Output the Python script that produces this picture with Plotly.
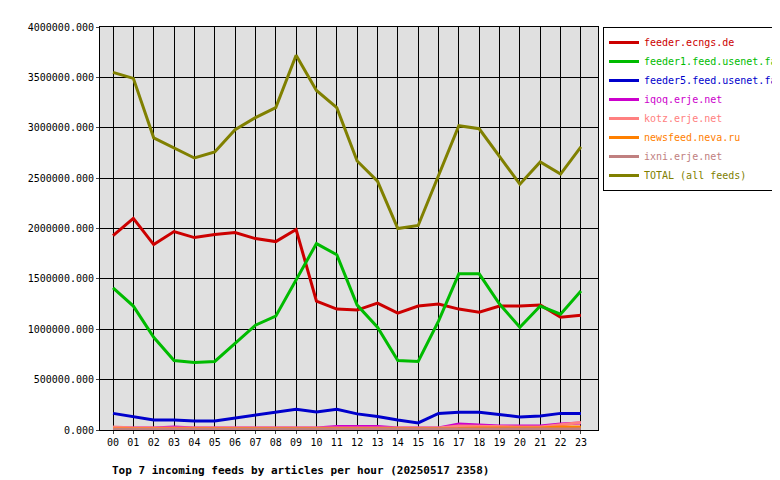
import plotly.graph_objects as go

hours = ["%02d" % h for h in range(24)]

total = [3550000, 3490000, 2900000, 2800000, 2700000, 2760000, 2980000, 3100000, 3200000, 3720000, 3370000, 3200000,
         2670000, 2470000, 2000000, 2030000, 2530000, 3020000, 2990000, 2720000, 2440000, 2660000, 2540000, 2810000]
ecngs = [1930000, 2100000, 1840000, 1970000, 1910000, 1940000, 1960000, 1900000, 1870000, 1990000, 1280000, 1200000,
         1190000, 1260000, 1160000, 1230000, 1250000, 1200000, 1170000, 1230000, 1230000, 1240000, 1120000, 1140000]
usenet1 = [1410000, 1230000, 920000, 690000, 670000, 680000, 860000, 1040000, 1130000, 1490000, 1850000, 1740000,
           1240000, 1020000, 690000, 680000, 1080000, 1550000, 1550000, 1250000, 1020000, 1230000, 1150000, 1380000]
usenet5 = [165000, 135000, 100000, 100000, 90000, 90000, 120000, 150000, 175000, 205000, 180000, 205000,
           160000, 135000, 100000, 70000, 165000, 175000, 175000, 150000, 130000, 140000, 165000, 165000]
iqoq = [20000, 20000, 20000, 30000, 20000, 20000, 20000, 20000, 20000, 20000, 20000, 35000,
        35000, 35000, 20000, 20000, 20000, 60000, 50000, 40000, 40000, 40000, 60000, 70000]
kotz = [30000, 20000, 20000, 20000, 20000, 20000, 20000, 20000, 20000, 20000, 20000, 20000,
        20000, 20000, 20000, 20000, 20000, 40000, 35000, 30000, 30000, 30000, 50000, 75000]
neva = [10000, 10000, 10000, 10000, 10000, 10000, 10000, 10000, 10000, 10000, 10000, 10000,
        10000, 10000, 10000, 10000, 10000, 15000, 20000, 20000, 20000, 20000, 30000, 30000]
ixni = [5000, 5000, 5000, 5000, 5000, 5000, 5000, 5000, 5000, 5000, 5000, 5000,
        5000, 5000, 5000, 5000, 5000, 8000, 8000, 8000, 8000, 8000, 10000, 10000]

series = [
    ("feeder.ecngs.de", ecngs, "#cc0000"),
    ("feeder1.feed.usenet.farm", usenet1, "#00bb00"),
    ("feeder5.feed.usenet.farm", usenet5, "#0000cc"),
    ("iqoq.erje.net", iqoq, "#cc00cc"),
    ("kotz.erje.net", kotz, "#ff8080"),
    ("newsfeed.neva.ru", neva, "#ff8000"),
    ("ixni.erje.net", ixni, "#c08080"),
    ("TOTAL (all feeds)", total, "#808000"),
]

fig = go.Figure()
for name, vals, col in series:
    fig.add_trace(go.Scatter(x=list(range(24)), y=vals,
                             name="<span style='color:%s'>%s</span>" % (col, name),
                             mode="lines", line=dict(color=col, width=3)))

font = dict(family="DejaVu Sans Mono", size=10, color="black")
fig.update_layout(
    width=780, height=480,
    margin=dict(l=92, r=190, t=19, b=58, autoexpand=False),
    paper_bgcolor="white", plot_bgcolor="#e0e0e0",
    font=font,
    showlegend=True,
    legend=dict(x=1.01, y=1.0, xanchor="left", yanchor="top", bgcolor="white",
                bordercolor="black", borderwidth=1, tracegroupgap=0,
                itemwidth=30, font=dict(family="DejaVu Sans Mono", size=10)),
    xaxis=dict(range=[-0.64, 23.84], tickvals=list(range(24)), ticktext=hours,
               showgrid=True, gridcolor="black", gridwidth=1, zeroline=False,
               showline=True, linecolor="black", mirror=True, ticks="outside", ticklen=3),
    yaxis=dict(range=[0, 4000000], dtick=500000, tickformat=".3f",
               showgrid=True, gridcolor="black", gridwidth=1, zeroline=False,
               showline=True, linecolor="black", mirror=True, ticks="outside", ticklen=3),
    annotations=[dict(text="<b>Top 7 incoming feeds by articles per hour (20250517 2358)</b>",
                      xref="paper", yref="paper", x=0.02, y=-0.1, xanchor="left", yanchor="middle",
                      showarrow=False, font=dict(family="DejaVu Sans Mono", size=11, color="black"))],
)
fig.write_html("out.html")
